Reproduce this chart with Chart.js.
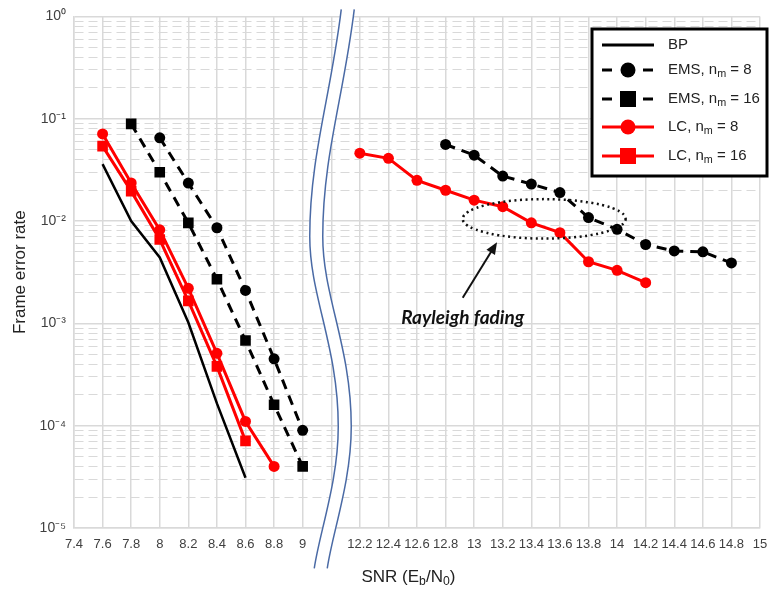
<!DOCTYPE html>
<html>
<head>
<meta charset="utf-8">
<script src="https://cdn.jsdelivr.net/npm/chart.js@4/dist/chart.umd.min.js"></script>
<style>
  html, body { margin:0; padding:0; background:#fff; }
  canvas { display:block; }
</style>
</head>
<body>
<canvas id="ferChart" width="769" height="590"></canvas>
<script>
// x axis is broken: AWGN part 7.4..9, then a gap slot, then Rayleigh part 12.2..15
const X_LABELS = ['7.4','7.6','7.8','8','8.2','8.4','8.6','8.8','9','',
  '12.2','12.4','12.6','12.8','13','13.2','13.4','13.6','13.8','14','14.2','14.4','14.6','14.8','15'];
const Y_DECADES = [1e-5, 1e-4, 1e-3, 1e-2, 1e-1, 1];
const Y_LABELS  = ['10⁻⁵','10⁻⁴','10⁻³','10⁻²','10⁻¹','10⁰'];
const Y_MANTISSAS = [1,2,3,4,5,6,7,8,9];

// AWGN curves
const BP_SNR    = [7.6, 7.8, 8.0, 8.2, 8.4, 8.6];
const BP_FER    = [0.036, 0.0100, 0.0044, 0.00102, 0.000165, 0.000031];
const EMS8_SNR  = [8.0, 8.2, 8.4, 8.6, 8.8, 9.0];
const EMS8_FER  = [0.065, 0.0235, 0.0086, 0.0021, 0.00045, 0.00009];
const EMS16_SNR = [7.8, 8.0, 8.2, 8.4, 8.6, 8.8, 9.0];
const EMS16_FER = [0.089, 0.030, 0.0096, 0.0027, 0.00068, 0.00016, 0.00004];
const LC8_SNR   = [7.6, 7.8, 8.0, 8.2, 8.4, 8.6, 8.8];
const LC8_FER   = [0.071, 0.0236, 0.0082, 0.0022, 0.00051, 0.00011, 0.00004];
const LC16_SNR  = [7.6, 7.8, 8.0, 8.2, 8.4, 8.6];
const LC16_FER  = [0.054, 0.0196, 0.0066, 0.00166, 0.00038, 0.000071];

// Rayleigh fading curves
const LC8R_SNR  = [12.2, 12.4, 12.6, 12.8, 13.0, 13.2, 13.4, 13.6, 13.8, 14.0, 14.2];
const LC8R_FER  = [0.046, 0.041, 0.025, 0.020, 0.016, 0.0138, 0.0096, 0.0077, 0.0040, 0.0033, 0.0025];
const EMS8R_SNR = [12.8, 13.0, 13.2, 13.4, 13.6, 13.8, 14.0, 14.2, 14.4, 14.6, 14.8];
const EMS8R_FER = [0.056, 0.044, 0.0275, 0.023, 0.019, 0.0108, 0.0083, 0.0059, 0.0051, 0.0050, 0.0039];

const LEGEND_TEXT = [
  [['BP', false]],
  [['EMS, n', false], ['m', true], [' = 8', false]],
  [['EMS, n', false], ['m', true], [' = 16', false]],
  [['LC, n', false], ['m', true], [' = 8', false]],
  [['LC, n', false], ['m', true], [' = 16', false]],
];
const X_TITLE = [['SNR (E', false], ['b', true], ['/N', false], ['0', true], [')', false]];
const NOTE_TEXT = 'Rayleigh fading';

const AWGN_FIRST = 7.4, FADING_FIRST = 12.2, SNR_STEP = 0.2, FADING_INDEX = 10;
const axPos = s => s < 10 ? (s - AWGN_FIRST) / SNR_STEP : FADING_INDEX + (s - FADING_FIRST) / SNR_STEP;
const pts = (snr, fer) => snr.map((s, i) => ({ x: axPos(s), y: fer[i] }));
const isDecade = v => Math.abs(Math.log10(v) - Math.round(Math.log10(v))) < 1e-6;

const FONT = '"Liberation Sans", Arial, sans-serif';
const gridC = '#d9d9d9';
const RED = '#ff0000';
const dash = [10, 7];

function richWidth(ctx, parts, size) {
  let w = 0;
  parts.forEach(([t, sub]) => { ctx.font = (sub ? size * 0.72 : size) + 'px ' + FONT; w += ctx.measureText(t).width; });
  return w;
}
function drawRich(ctx, x, y, parts, size) {
  parts.forEach(([t, sub]) => {
    ctx.font = (sub ? size * 0.72 : size) + 'px ' + FONT;
    ctx.fillText(t, x, y + (sub ? size * 0.3 : 0));
    x += ctx.measureText(t).width;
  });
}
function marker(ctx, style, x, y, r, color) {
  ctx.fillStyle = color;
  if (style === 'circle') { ctx.beginPath(); ctx.arc(x, y, r, 0, Math.PI * 2); ctx.fill(); }
  else if (style === 'rect') { ctx.fillRect(x - r, y - r, 2 * r, 2 * r); }
}

const extras = {
  id: 'extras',
  beforeDraw(chart) {
    const ctx = chart.ctx;
    ctx.save(); ctx.fillStyle = '#fff'; ctx.fillRect(0, 0, chart.width, chart.height); ctx.restore();
  },
  afterDraw(chart) {
    const ctx = chart.ctx, xs = chart.scales.x, ys = chart.scales.y, ca = chart.chartArea;
    ctx.save();

    // axis break symbol
    const cx = xs.getPixelForValue(9), t = ca.top;
    const path = (dx) => {
      ctx.moveTo(cx + 16.5 + dx, t - 7);
      ctx.bezierCurveTo(cx + 6 + dx, t + 80, cx - 15 + dx, t + 140, cx - 15 + dx, t + 220);
      ctx.bezierCurveTo(cx - 15 + dx, t + 280, cx + 13.5 + dx, t + 330, cx + 13.5 + dx, t + 410);
      ctx.bezierCurveTo(cx + 13.5 + dx, t + 465, cx - 5 + dx, t + 515, cx - 10.5 + dx, t + 552);
    };
    for (let dx = -6; dx <= 6; dx += 1) {
      ctx.beginPath(); path(dx); ctx.strokeStyle = '#fff'; ctx.lineWidth = 2; ctx.stroke();
    }
    ctx.strokeStyle = '#4a6aa5'; ctx.lineWidth = 1.5;
    ctx.beginPath(); path(-6.5); ctx.stroke();
    ctx.beginPath(); path(6.5); ctx.stroke();

    // dotted ellipse around the crossing
    const ex = xs.getPixelForValue(axPos(13.49)), ey = ys.getPixelForValue(0.0105);
    const rx = xs.getPixelForValue(axPos(14.06)) - ex;
    const ry = (ys.getPixelForValue(0.0067) - ys.getPixelForValue(0.0163)) / 2;
    ctx.strokeStyle = '#111'; ctx.lineWidth = 2.5; ctx.setLineDash([2, 3.5]);
    ctx.beginPath(); ctx.ellipse(ex, ey, rx, ry, 0, 0, Math.PI * 2); ctx.stroke();
    ctx.setLineDash([]);

    // arrow
    const ax0 = xs.getPixelForValue(axPos(12.92)), ay0 = ys.getPixelForValue(0.00178);
    const ax1 = xs.getPixelForValue(axPos(13.16)), ay1 = ys.getPixelForValue(0.0062);
    const ang = Math.atan2(ay1 - ay0, ax1 - ax0);
    ctx.lineWidth = 2; ctx.strokeStyle = '#111'; ctx.fillStyle = '#111';
    ctx.beginPath(); ctx.moveTo(ax0, ay0);
    ctx.lineTo(ax1 - 8 * Math.cos(ang), ay1 - 8 * Math.sin(ang)); ctx.stroke();
    ctx.beginPath(); ctx.moveTo(ax1, ay1);
    ctx.lineTo(ax1 - 12 * Math.cos(ang) + 5 * Math.sin(ang), ay1 - 12 * Math.sin(ang) - 5 * Math.cos(ang));
    ctx.lineTo(ax1 - 12 * Math.cos(ang) - 5 * Math.sin(ang), ay1 - 12 * Math.sin(ang) + 5 * Math.cos(ang));
    ctx.closePath(); ctx.fill();

    // annotation text
    ctx.font = 'italic bold 19px Lato, "Open Sans", sans-serif';
    ctx.textAlign = 'center'; ctx.textBaseline = 'middle';
    ctx.fillText(NOTE_TEXT, xs.getPixelForValue(axPos(12.92)), ys.getPixelForValue(0.00114));

    // x title with subscripts
    ctx.textAlign = 'left'; ctx.textBaseline = 'middle'; ctx.fillStyle = '#222';
    const tw = richWidth(ctx, X_TITLE, 17);
    drawRich(ctx, xs.getPixelForValue(11.7) - tw / 2, 577, X_TITLE, 17);

    // legend box
    const lx = 592, ly = 29, lw = 175, lh = 147;
    ctx.fillStyle = '#fff'; ctx.fillRect(lx, ly, lw, lh);
    ctx.strokeStyle = '#000'; ctx.lineWidth = 3; ctx.strokeRect(lx, ly, lw, lh);
    const rows = [45, 70, 99, 127, 156];
    chart.data.datasets.slice(0, 5).forEach((d, i) => {
      const y = rows[i];
      ctx.strokeStyle = d.borderColor; ctx.lineWidth = 3;
      ctx.setLineDash(d.borderDash ? [10, 31] : []);
      ctx.beginPath(); ctx.moveTo(602, y); ctx.lineTo(654, y); ctx.stroke();
      ctx.setLineDash([]);
      if (d.pointRadius > 0) marker(ctx, d.pointStyle, 628, y, d.pointStyle === 'rect' ? 8 : 7.5, d.borderColor);
      ctx.fillStyle = '#222';
      drawRich(ctx, 668, y, LEGEND_TEXT[i], 15);
    });
    ctx.restore();
  }
};

const blackDash = (label, data, style, r) => ({ label, data, borderColor:'#000', backgroundColor:'#000',
  borderWidth:3, borderDash:dash, pointStyle:style, pointRadius:r, pointBackgroundColor:'#000', pointBorderWidth:0 });
const redLine = (label, data, style, r) => ({ label, data, borderColor:RED, backgroundColor:RED,
  borderWidth:3, pointStyle:style, pointRadius:r, pointBackgroundColor:RED, pointBorderWidth:0 });

new Chart(document.getElementById('ferChart'), {
  type: 'line',
  data: { datasets: [
    { label:'BP', data:pts(BP_SNR, BP_FER), borderColor:'#000', backgroundColor:'#000', borderWidth:2.5, pointRadius:0 },
    blackDash('EMS, nm = 8', pts(EMS8_SNR, EMS8_FER), 'circle', 5.5),
    blackDash('EMS, nm = 16', pts(EMS16_SNR, EMS16_FER), 'rect', 7.5),
    redLine('LC, nm = 8', pts(LC8_SNR, LC8_FER), 'circle', 5.5),
    redLine('LC, nm = 16', pts(LC16_SNR, LC16_FER), 'rect', 7.5),
    redLine('LC, nm = 8 (Rayleigh)', pts(LC8R_SNR, LC8R_FER), 'circle', 5.5),
    blackDash('EMS, nm = 8 (Rayleigh)', pts(EMS8R_SNR, EMS8R_FER), 'circle', 5.5),
  ]},
  options: {
    responsive:false, animation:false,
    layout:{ padding:{ top:15, right:9, left:0, bottom:0 } },
    elements:{ line:{ tension:0 } },
    plugins:{ legend:{ display:false }, tooltip:{ enabled:false } },
    scales:{
      x:{ type:'linear', min:0, max:X_LABELS.length - 1,
        afterBuildTicks: s => { s.ticks = X_LABELS.map((_, i) => ({ value:i })); },
        afterFit: s => { s.height = 62; s.paddingLeft = 0; s.paddingRight = 0; },
        grid:{ color:gridC, lineWidth:1.5, drawTicks:false },
        border:{ color:gridC, width:1.5 },
        ticks:{ autoSkip:false, maxRotation:0, padding:9, color:'#404040', font:{ family:FONT, size:13 },
          callback: v => X_LABELS[Math.round(v)] } },
      y:{ type:'logarithmic', min:1e-5, max:1,
        afterBuildTicks: s => {
          const t = [];
          Y_DECADES.forEach(d => Y_MANTISSAS.forEach(m => { if (d * m <= 1.000001) t.push({ value:d * m }); }));
          s.ticks = t;
        },
        afterFit: s => { s.width = 74; },
        grid:{ color:gridC, lineWidth: c => (c.tick && isDecade(c.tick.value)) ? 1.5 : 1, drawTicks:false },
        border:{ color:gridC, width:1.5, dash: c => (c.tick && !isDecade(c.tick.value)) ? [9, 5] : [] },
        ticks:{ autoSkip:false, padding:8, color:'#404040', font:{ family:FONT, size:14 },
          callback: v => isDecade(v) ? Y_LABELS[Math.round(Math.log10(v)) + 5] : '' },
        title:{ display:true, text:'Frame error rate', color:'#222', font:{ family:FONT, size:17 }, padding:{ top:10, bottom:0 } } }
    }
  },
  plugins:[extras]
});
</script>
</body>
</html>
